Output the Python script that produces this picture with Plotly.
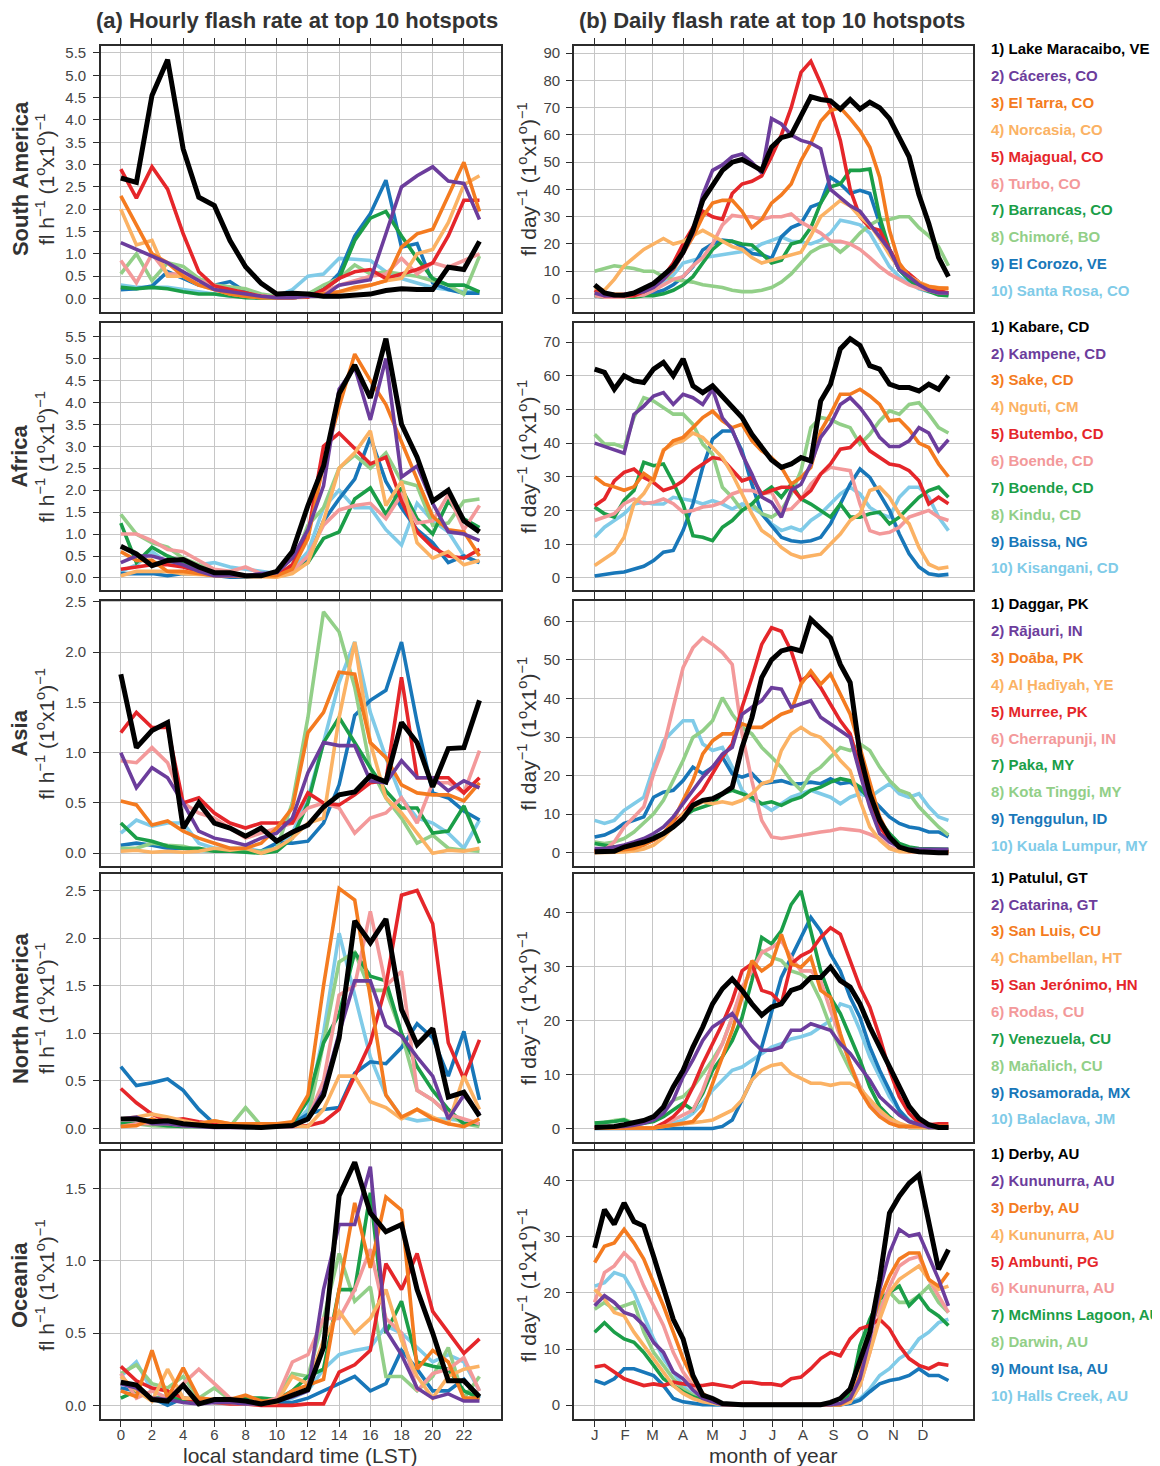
import plotly.graph_objects as go

# page pixels -> figure pixels (browser body margin is 8 px)
PAGE_OFF = 8
W, H = 1152, 1458
FONT = "Liberation Sans, Arial, Helvetica, sans-serif"

HOURS = list(range(24))
DAYS = list(range(1, 362, 10))          # sampled every 10 days
MONTH_DAYS = [1, 32, 60, 91, 121, 152, 182, 213, 244, 274, 305, 335]
MONTH_LABELS = ["J", "F", "M", "A", "M", "J", "J", "A", "S", "O", "N", "D"]
HOUR_TICKS = list(range(0, 24, 2))

COLORS = ["#000000", "#6c3d9c", "#f47b20", "#fbb264", "#e5262a",
          "#f3999a", "#1b9e48", "#92cf88", "#1877b9", "#80cbe8"]

REGIONS = ["South America", "Africa", "Asia", "North America", "Oceania"]

sa_names = ["1) Lake Maracaibo, VE", "2) Cáceres, CO", "3) El Tarra, CO", "4) Norcasia, CO",
            "5) Majagual, CO", "6) Turbo, CO", "7) Barrancas, CO", "8) Chimoré, BO",
            "9) El Corozo, VE", "10) Santa Rosa, CO"]
af_names = ["1) Kabare, CD", "2) Kampene, CD", "3) Sake, CD", "4) Nguti, CM", "5) Butembo, CD",
            "6) Boende, CD", "7) Boende, CD", "8) Kindu, CD", "9) Baissa, NG", "10) Kisangani, CD"]
as_names = ["1) Daggar, PK", "2) Rājauri, IN", "3) Doāba, PK", "4) Al Ḩadīyah, YE", "5) Murree, PK",
            "6) Cherrapunji, IN", "7) Paka, MY", "8) Kota Tinggi, MY", "9) Tenggulun, ID",
            "10) Kuala Lumpur, MY"]
na_names = ["1) Patulul, GT", "2) Catarina, GT", "3) San Luis, CU", "4) Chambellan, HT",
            "5) San Jerónimo, HN", "6) Rodas, CU", "7) Venezuela, CU", "8) Mañalich, CU",
            "9) Rosamorada, MX", "10) Balaclava, JM"]
oc_names = ["1) Derby, AU", "2) Kununurra, AU", "3) Derby, AU", "4) Kununurra, AU", "5) Ambunti, PG",
            "6) Kununurra, AU", "7) McMinns Lagoon, AU", "8) Darwin, AU", "9) Mount Isa, AU",
            "10) Halls Creek, AU"]

# ---------------- hourly flash rate (fl h-1 per 1x1 deg) ----------------
sa_hourly = [
    [2.70, 2.60, 4.55, 5.35, 3.35, 2.27, 2.08, 1.30, 0.71, 0.34, 0.10, 0.12, 0.10, 0.05, 0.05, 0.08, 0.10, 0.18, 0.22, 0.20, 0.20, 0.70, 0.65, 1.28],
    [1.25, 1.10, 0.95, 0.80, 0.60, 0.40, 0.20, 0.15, 0.10, 0.05, 0.02, 0.02, 0.05, 0.05, 0.30, 0.35, 0.42, 1.45, 2.50, 2.75, 2.95, 2.63, 2.58, 1.77],
    [2.30, 1.65, 1.00, 0.80, 0.50, 0.30, 0.20, 0.10, 0.05, 0.02, 0.02, 0.02, 0.05, 0.10, 0.15, 0.25, 0.30, 0.40, 1.15, 1.45, 1.55, 2.30, 3.05, 1.95],
    [2.00, 1.20, 1.30, 0.50, 0.50, 0.30, 0.20, 0.10, 0.05, 0.02, 0.02, 0.02, 0.05, 0.10, 0.15, 0.20, 0.30, 0.40, 0.45, 1.00, 1.10, 1.70, 2.55, 2.75],
    [2.90, 2.25, 2.95, 2.45, 1.45, 0.60, 0.28, 0.20, 0.12, 0.05, 0.02, 0.02, 0.03, 0.20, 0.45, 0.60, 0.65, 0.45, 0.55, 0.65, 0.80, 1.40, 2.20, 2.20],
    [0.85, 0.35, 1.00, 0.55, 0.55, 0.40, 0.30, 0.15, 0.10, 0.05, 0.02, 0.02, 0.05, 0.15, 0.30, 0.40, 0.50, 0.55, 0.90, 0.55, 0.80, 0.70, 0.85, 1.00],
    [0.25, 0.22, 0.25, 0.22, 0.15, 0.10, 0.10, 0.05, 0.02, 0.01, 0.01, 0.02, 0.05, 0.20, 0.45, 1.30, 1.80, 1.95, 1.40, 0.90, 0.45, 0.30, 0.30, 0.15],
    [0.55, 1.00, 0.40, 0.80, 0.72, 0.45, 0.30, 0.25, 0.22, 0.10, 0.05, 0.05, 0.10, 0.30, 0.45, 0.75, 0.55, 0.60, 0.55, 0.50, 0.40, 0.30, 0.10, 0.95],
    [0.20, 0.22, 0.28, 0.60, 0.45, 0.30, 0.30, 0.38, 0.15, 0.05, 0.02, 0.02, 0.05, 0.20, 0.56, 1.40, 1.90, 2.65, 1.15, 1.23, 0.35, 0.20, 0.12, 0.12],
    [0.30, 0.25, 0.25, 0.25, 0.20, 0.15, 0.10, 0.05, 0.05, 0.05, 0.05, 0.20, 0.50, 0.55, 0.90, 0.88, 0.85, 0.60, 0.45, 0.35, 0.25, 0.20, 0.15, 0.15],
]
af_hourly = [
    [0.72, 0.55, 0.28, 0.40, 0.42, 0.25, 0.12, 0.12, 0.05, 0.05, 0.15, 0.60, 1.65, 2.55, 4.20, 4.85, 4.10, 5.45, 3.50, 2.75, 1.75, 2.00, 1.30, 1.05],
    [0.35, 0.50, 0.50, 0.40, 0.30, 0.15, 0.05, 0.05, 0.05, 0.10, 0.12, 0.45, 1.10, 2.10, 4.30, 4.80, 3.60, 5.00, 2.30, 2.55, 1.70, 1.05, 1.00, 0.85],
    [0.60, 0.40, 0.40, 0.15, 0.15, 0.10, 0.05, 0.05, 0.05, 0.05, 0.05, 0.20, 0.90, 2.60, 3.90, 5.10, 4.50, 3.95, 3.10, 2.20, 1.40, 1.10, 1.05, 0.50],
    [0.05, 0.15, 0.15, 0.15, 0.10, 0.08, 0.05, 0.03, 0.03, 0.03, 0.02, 0.10, 0.35, 1.30, 2.50, 2.85, 3.35, 1.65, 2.20, 0.80, 0.45, 0.60, 0.30, 0.40],
    [0.20, 0.25, 0.30, 0.30, 0.25, 0.15, 0.10, 0.05, 0.05, 0.05, 0.05, 0.30, 1.00, 3.00, 3.30, 2.95, 2.60, 2.75, 1.75, 1.05, 0.70, 0.50, 0.45, 0.65],
    [1.00, 1.00, 0.85, 0.65, 0.60, 0.40, 0.20, 0.15, 0.25, 0.10, 0.05, 0.15, 0.50, 1.20, 1.55, 1.65, 1.70, 1.35, 1.90, 1.25, 1.30, 1.90, 1.10, 1.65],
    [1.25, 0.35, 0.70, 0.50, 0.35, 0.20, 0.10, 0.05, 0.05, 0.05, 0.10, 0.20, 0.35, 0.90, 1.05, 1.80, 2.05, 1.45, 2.05, 1.35, 1.00, 1.75, 1.35, 1.15],
    [1.45, 1.00, 0.80, 0.70, 0.45, 0.30, 0.15, 0.10, 0.05, 0.05, 0.05, 0.30, 1.20, 1.60, 2.50, 2.80, 2.50, 2.85, 2.20, 2.10, 1.20, 1.25, 1.75, 1.80],
    [0.10, 0.10, 0.10, 0.05, 0.10, 0.10, 0.05, 0.02, 0.02, 0.05, 0.10, 0.15, 0.40, 1.30, 1.80, 2.25, 3.20, 2.20, 1.60, 1.10, 0.80, 0.35, 0.50, 0.35],
    [0.15, 0.30, 0.60, 0.35, 0.30, 0.30, 0.35, 0.25, 0.20, 0.15, 0.10, 0.20, 0.60, 1.60, 2.00, 1.60, 1.60, 1.10, 0.75, 1.70, 1.30, 1.05, 0.50, 0.35],
]
as_hourly = [
    [1.78, 1.05, 1.22, 1.30, 0.25, 0.50, 0.30, 0.25, 0.17, 0.25, 0.12, 0.21, 0.28, 0.46, 0.58, 0.61, 0.77, 0.71, 1.30, 1.10, 0.66, 1.04, 1.05, 1.52],
    [1.00, 0.65, 0.85, 0.75, 0.50, 0.22, 0.15, 0.12, 0.08, 0.15, 0.20, 0.35, 0.80, 1.10, 1.07, 1.07, 0.72, 0.70, 0.92, 0.75, 0.75, 0.62, 0.72, 0.65],
    [0.52, 0.48, 0.28, 0.32, 0.22, 0.15, 0.10, 0.05, 0.05, 0.10, 0.25, 0.45, 1.20, 1.40, 1.80, 1.78, 1.10, 0.95, 0.68, 0.60, 0.58, 0.58, 0.52, 0.70],
    [0.02, 0.03, 0.01, 0.02, 0.01, 0.02, 0.05, 0.03, 0.05, 0.00, 0.05, 0.15, 0.30, 0.35, 1.35, 2.10, 1.10, 0.55, 0.40, 0.20, 0.00, 0.03, 0.02, 0.05],
    [1.20, 1.40, 1.25, 1.25, 0.50, 0.55, 0.40, 0.30, 0.25, 0.30, 0.30, 0.30, 0.60, 0.50, 0.48, 0.58, 0.70, 0.72, 1.75, 0.75, 0.75, 0.75, 0.60, 0.75],
    [0.92, 0.90, 1.05, 0.90, 0.50, 0.40, 0.35, 0.25, 0.15, 0.20, 0.25, 0.30, 0.45, 0.50, 0.45, 0.20, 0.35, 0.40, 0.55, 0.30, 0.70, 0.70, 0.60, 1.02],
    [0.30, 0.15, 0.12, 0.07, 0.05, 0.05, 0.02, 0.02, 0.01, 0.00, 0.02, 0.15, 0.50, 1.10, 1.35, 1.10, 0.85, 0.62, 0.45, 0.45, 0.20, 0.22, 0.47, 0.10],
    [0.05, 0.05, 0.10, 0.08, 0.07, 0.03, 0.02, 0.02, 0.02, 0.02, 0.05, 0.50, 1.35, 2.40, 2.20, 1.65, 0.85, 0.55, 0.35, 0.10, 0.18, 0.05, 0.03, 0.02],
    [0.08, 0.10, 0.08, 0.05, 0.05, 0.03, 0.02, 0.02, 0.02, 0.02, 0.10, 0.10, 0.12, 0.30, 0.68, 1.37, 1.52, 1.62, 2.10, 1.30, 0.60, 0.55, 0.42, 0.33],
    [0.20, 0.33, 0.27, 0.30, 0.30, 0.10, 0.05, 0.05, 0.05, 0.02, 0.05, 0.20, 0.55, 1.10, 1.70, 2.10, 1.40, 0.95, 0.55, 0.35, 0.30, 0.20, 0.05, 0.33],
]
na_hourly = [
    [0.10, 0.10, 0.07, 0.08, 0.05, 0.03, 0.02, 0.02, 0.01, 0.01, 0.02, 0.03, 0.10, 0.35, 0.95, 2.18, 1.95, 2.20, 1.25, 0.88, 1.05, 0.33, 0.38, 0.13],
    [0.10, 0.12, 0.05, 0.05, 0.03, 0.02, 0.01, 0.01, 0.01, 0.01, 0.02, 0.02, 0.10, 0.40, 1.00, 1.55, 1.55, 1.08, 0.97, 0.75, 0.55, 0.10, 0.35, 0.15],
    [0.02, 0.03, 0.10, 0.05, 0.05, 0.05, 0.08, 0.05, 0.05, 0.05, 0.05, 0.07, 0.35, 1.50, 2.52, 2.40, 1.40, 0.35, 0.12, 0.20, 0.10, 0.05, 0.02, 0.10],
    [0.10, 0.12, 0.15, 0.12, 0.08, 0.05, 0.08, 0.05, 0.03, 0.03, 0.03, 0.03, 0.02, 0.20, 0.55, 0.55, 0.28, 0.22, 0.10, 0.20, 0.12, 0.05, 0.55, 0.20],
    [0.42, 0.27, 0.15, 0.08, 0.10, 0.07, 0.05, 0.03, 0.02, 0.02, 0.02, 0.02, 0.03, 0.07, 0.20, 0.55, 0.90, 1.50, 2.45, 2.50, 2.15, 0.90, 0.52, 0.93],
    [0.02, 0.05, 0.05, 0.05, 0.03, 0.03, 0.02, 0.02, 0.02, 0.02, 0.02, 0.03, 0.10, 0.50, 1.40, 1.50, 2.28, 1.50, 1.65, 0.40, 0.30, 0.15, 0.10, 0.05],
    [0.05, 0.05, 0.05, 0.03, 0.02, 0.02, 0.02, 0.02, 0.01, 0.01, 0.02, 0.05, 0.30, 0.90, 1.20, 1.85, 1.60, 1.55, 1.00, 0.65, 0.40, 0.20, 0.05, 0.05],
    [0.05, 0.05, 0.03, 0.02, 0.02, 0.02, 0.02, 0.02, 0.22, 0.03, 0.02, 0.03, 0.10, 0.90, 1.75, 1.85, 1.45, 1.45, 1.00, 0.40, 0.30, 0.15, 0.05, 0.02],
    [0.65, 0.45, 0.48, 0.52, 0.40, 0.20, 0.05, 0.02, 0.01, 0.02, 0.02, 0.05, 0.15, 0.20, 0.22, 0.58, 0.70, 0.68, 0.85, 1.10, 0.95, 0.55, 1.02, 0.30],
    [0.05, 0.05, 0.05, 0.05, 0.03, 0.03, 0.02, 0.02, 0.02, 0.02, 0.02, 0.03, 0.20, 1.00, 2.05, 1.40, 0.75, 0.35, 0.12, 0.08, 0.10, 0.10, 0.08, 0.05],
]
oc_hourly = [
    [0.16, 0.14, 0.04, 0.03, 0.14, 0.01, 0.04, 0.04, 0.03, 0.01, 0.03, 0.07, 0.11, 0.40, 1.45, 1.68, 1.33, 1.20, 1.25, 0.80, 0.50, 0.17, 0.17, 0.06],
    [0.15, 0.12, 0.05, 0.04, 0.02, 0.01, 0.02, 0.02, 0.01, 0.01, 0.03, 0.06, 0.10, 0.80, 1.25, 1.25, 1.65, 0.52, 0.35, 0.12, 0.05, 0.08, 0.03, 0.03],
    [0.10, 0.06, 0.38, 0.05, 0.26, 0.05, 0.04, 0.04, 0.07, 0.03, 0.03, 0.10, 0.14, 0.18, 0.80, 1.40, 0.95, 1.44, 1.35, 0.25, 0.38, 0.30, 0.05, 0.05],
    [0.20, 0.10, 0.03, 0.25, 0.05, 0.05, 0.02, 0.02, 0.01, 0.01, 0.02, 0.20, 0.15, 0.45, 0.65, 0.50, 0.60, 0.80, 0.45, 0.20, 0.05, 0.20, 0.25, 0.27],
    [0.27, 0.17, 0.12, 0.10, 0.05, 0.03, 0.02, 0.01, 0.01, 0.00, 0.00, 0.00, 0.01, 0.01, 0.23, 0.28, 0.38, 0.98, 0.80, 1.05, 0.65, 0.50, 0.36, 0.46],
    [0.22, 0.05, 0.10, 0.05, 0.15, 0.25, 0.15, 0.05, 0.03, 0.02, 0.05, 0.30, 0.35, 0.60, 0.60, 0.80, 1.08, 0.60, 0.50, 0.10, 0.22, 0.25, 0.33, 0.10],
    [0.05, 0.10, 0.05, 0.05, 0.04, 0.03, 0.03, 0.04, 0.05, 0.05, 0.04, 0.10, 0.20, 0.25, 0.80, 0.80, 1.47, 0.50, 0.72, 0.30, 0.27, 0.25, 0.10, 0.05],
    [0.22, 0.28, 0.15, 0.12, 0.20, 0.05, 0.12, 0.04, 0.03, 0.02, 0.05, 0.22, 0.20, 0.60, 1.05, 0.72, 0.82, 0.20, 0.20, 0.10, 0.20, 0.40, 0.05, 0.20],
    [0.12, 0.10, 0.05, 0.00, 0.05, 0.03, 0.02, 0.02, 0.01, 0.01, 0.02, 0.02, 0.05, 0.10, 0.15, 0.20, 0.10, 0.15, 0.38, 0.25, 0.10, 0.10, 0.18, 0.05],
    [0.20, 0.30, 0.10, 0.05, 0.05, 0.05, 0.02, 0.02, 0.01, 0.01, 0.02, 0.05, 0.10, 0.25, 0.35, 0.38, 0.40, 0.55, 0.50, 0.40, 0.30, 0.35, 0.30, 0.10],
]

# ---------------- daily flash rate (fl day-1 per 1x1 deg), every 10 days ----------------
sa_daily = [
    [5, 2, 1.3, 1.2, 2, 4, 5.5, 8.6, 11.7, 17, 25, 36, 41.5, 47, 50, 51, 49, 47, 55.5, 59, 60, 67, 74, 73, 72.5, 69.5, 73, 69.5, 72, 70, 66, 59, 52, 38, 27.5, 15, 8],
    [2, 1, 1, 1.5, 2, 2.5, 4, 7, 11, 16.5, 24, 38, 47, 49, 52, 53, 50, 46, 66, 64, 60, 58, 57, 55, 40, 37, 34, 32, 27.5, 22.6, 17.8, 10.5, 8, 5, 3, 2, 2],
    [2, 1.5, 1.5, 1.5, 2, 2.5, 4.4, 7, 10.5, 16.5, 22.6, 30, 35, 36, 36, 32, 26, 29, 35, 38, 42, 50.6, 57, 65, 69, 70, 66, 61.5, 55.5, 44.5, 25, 13, 8, 5.6, 4.4, 3.8, 3.8],
    [4, 3, 7, 12, 15, 18, 20, 22, 20, 21, 23, 25, 23, 21, 19, 18, 15, 13, 14, 15, 16, 17, 23, 30, 33, 36, 34, 30, 27, 22, 16, 11, 8, 6, 4.5, 4, 3.5],
    [3, 1, 1, 1, 1, 2.5, 5, 8, 13, 20, 26, 32, 30, 29, 38.5, 42, 43, 45, 52, 60, 70, 83, 87, 79, 70, 58, 40, 30, 26, 25, 18, 12, 9, 6, 3.5, 3, 2],
    [1, 0.5, 0.5, 0.5, 1, 1.3, 3, 5, 7, 8, 12, 15, 20, 27, 30.5, 30, 30, 29, 30, 30, 31, 28, 26, 24, 21, 21, 20, 18, 15, 11.7, 9, 7, 5, 3.8, 3, 2, 2],
    [1, 0.5, 0.5, 0.5, 0.5, 1, 1, 1.7, 3, 5, 8, 13, 18, 21, 21, 20, 19.6, 16.5, 13, 14, 20, 21, 26, 35, 41, 42, 47, 47, 47.5, 30, 18, 10.5, 7, 4, 2.5, 1.3, 1],
    [10, 11, 12, 11.5, 11, 10, 10, 8, 7, 6.5, 6, 5, 4.5, 4, 3, 2.5, 2.5, 3, 4, 6, 9, 13, 17, 19, 20, 17, 20, 24, 27, 29, 29, 30, 30, 26, 23, 19, 12],
    [1.3, 0.5, 0.5, 0.5, 1, 1.5, 2, 3, 5, 8, 11.7, 17.8, 20, 21.4, 21, 19, 16.5, 16, 14.7, 22.6, 26, 27.5, 33.6, 35, 44.5, 42, 38.5, 39.7, 38.5, 27.5, 17.8, 10.5, 6.8, 4.4, 3, 2, 1.3],
    [0.7, 0.7, 0.8, 1, 1.2, 1.3, 3, 5.6, 8.6, 13, 14, 15, 15.5, 16, 16.5, 17, 17.8, 20, 21.4, 22.6, 21, 20.8, 20, 21.4, 24, 28.7, 28, 27, 24, 17.8, 11.7, 8, 5.6, 3.5, 2.5, 2, 1.5],
]
af_daily = [
    [62, 61, 56, 60, 58.5, 58, 62, 64, 60, 65, 57, 55, 57, 54, 50.5, 47.6, 42.6, 38.7, 35, 32.8, 33.8, 35.7, 34.7, 52.5, 57.5, 68, 71, 69, 63, 62, 57.5, 56.5, 56.5, 55.5, 57.5, 56, 60],
    [40, 39, 38, 37, 48.5, 51, 54, 55, 51.5, 54.5, 53.5, 51.5, 56, 47.5, 44, 36.7, 30.8, 24, 22.4, 18, 26, 27.8, 33.8, 41.7, 45.6, 51.5, 53.5, 50.5, 46.6, 41.7, 39, 39, 40.7, 44.6, 43, 37.7, 41],
    [30, 27.8, 27, 26, 27, 31, 29, 37.7, 40.7, 41.7, 44.6, 47.6, 49.5, 46.6, 44.6, 45.6, 40.7, 37.7, 35.7, 32.8, 27.8, 29.8, 32.8, 43.6, 48.6, 54.5, 54.5, 56, 54, 51.5, 46.6, 47, 44, 40, 38.7, 33.8, 30],
    [3.6, 5.6, 7.6, 12, 22, 25, 29.8, 38, 39.7, 40.7, 43, 41.7, 38.7, 35.7, 30.8, 24.9, 19, 14, 12, 9, 7, 6, 6.6, 7, 10, 13, 17, 19, 25.9, 26.9, 23.9, 19, 16, 9, 4, 2.7, 3.2],
    [21.4, 23.4, 28.8, 31.3, 32.3, 29.8, 28.3, 25.9, 26.9, 28.8, 31.8, 33.8, 35.7, 35.2, 31.8, 28.8, 29.8, 24.9, 25.9, 26.9, 26.9, 23.4, 25.9, 30.8, 33.8, 38.2, 38.7, 41.7, 37.7, 35.7, 33.8, 33.3, 31.8, 28.8, 21.9, 23.9, 22],
    [17, 18, 19, 22, 23.4, 22, 22.4, 23.4, 22, 19.5, 20, 21, 21.4, 22.4, 24.9, 25.9, 25.9, 24.9, 25.4, 20, 20.4, 23.4, 27.8, 30.8, 32.8, 32.3, 31.8, 21.9, 14, 13, 13.5, 15, 18, 19, 20, 18, 17],
    [21, 19, 18, 23, 25.9, 34.3, 33.3, 33.8, 28.3, 21.9, 12.5, 12, 11, 15, 17, 20, 21.9, 24.9, 26.9, 23.9, 27.8, 23.4, 21.9, 20, 18, 21.9, 18, 18, 19, 19.5, 16, 18, 20.9, 23.9, 25.9, 26.9, 23.9],
    [42.6, 39.7, 39.7, 38.7, 47.6, 53.5, 52.5, 50.5, 48.6, 48.6, 45.6, 39.7, 36.7, 26.9, 23.9, 20, 21.9, 19, 18, 20, 24.9, 31.8, 44.6, 47.6, 47, 45.6, 44.6, 39.7, 42.6, 46.6, 49.6, 48.6, 51.5, 52, 48.6, 44.6, 43],
    [0.5, 1, 1.4, 1.7, 2.5, 3.4, 5.1, 7.6, 8.1, 14, 21.9, 32.8, 41.2, 43.6, 43.6, 37.7, 27.8, 19, 15.5, 12, 11, 10.6, 11, 12, 16, 21.9, 27.8, 32.3, 29.8, 24.9, 20, 13, 7.1, 3.2, 1.2, 0.7, 1],
    [12, 15, 17, 19, 21.9, 22.4, 21.9, 21.9, 23.9, 23.4, 22.9, 21.9, 22.9, 21.9, 20.4, 21.9, 20.9, 19, 16, 14, 15, 14, 17, 19, 21.9, 24.9, 26.9, 24.9, 20.9, 19, 18, 23.9, 26.9, 26.9, 23.9, 18, 14],
]
as_daily = [
    [0.3, 0.3, 0.4, 1.5, 2, 2.8, 3.7, 5, 6.7, 8.9, 12.3, 13.6, 14, 15.3, 17, 27.3, 35, 45.4, 50, 52.3, 53, 52.3, 60.5, 58.3, 55.7, 48.8, 44.1, 25.6, 15.3, 8.4, 4.1, 1.5, 0.7, 0.3, 0, 0, 0],
    [1.1, 1.1, 1.5, 2, 2.8, 3.7, 5, 6.7, 9.3, 12.7, 16.2, 19.6, 22.2, 25.6, 27.3, 35.9, 37.7, 39.4, 42.8, 42.4, 37.7, 38.5, 39.4, 35.1, 33.4, 31.6, 29.9, 20.5, 11.9, 5, 2.8, 1.5, 0.9, 0.9, 0.9, 0.9, 0.9],
    [0.3, 0.4, 0.5, 0.8, 1.1, 2, 3.3, 5, 8.4, 13.6, 18.7, 25.6, 29, 30.8, 30.8, 33.4, 32.5, 32.5, 34.2, 35.9, 36.8, 43.7, 47.1, 43.7, 46.3, 41.1, 35.9, 27.3, 18.7, 9.3, 4.1, 1.5, 0.5, 0.5, 0.5, 0.5, 0.5],
    [0, 0, 0.1, 0.2, 0.5, 1, 2, 4, 6.7, 10.1, 11.9, 13.2, 12.7, 13.2, 12.7, 13.6, 15.3, 17.9, 18.7, 26.5, 30.8, 32.5, 30.8, 29.9, 27.3, 23.9, 21.3, 13.6, 6.7, 3.3, 1.1, 0.3, 0.3, 0.3, 0.3, 0.3, 0.3],
    [0.7, 0.8, 0.9, 1.2, 1.5, 2.2, 3.3, 5, 7.6, 10.1, 13.6, 16.2, 20.5, 24.8, 28.2, 37.7, 45.4, 54, 58.3, 57.4, 52.3, 44.5, 46.3, 42.8, 38.5, 34.2, 30.8, 22.2, 13.6, 6.7, 3.3, 1.5, 0.7, 0.3, 0.3, 0.3, 0.3],
    [0, 0.7, 2.8, 6.7, 9.3, 11.9, 20.5, 27.3, 37.7, 48, 53.1, 55.7, 54, 51.9, 48.8, 30.8, 18.7, 8.4, 4.1, 3.7, 4.1, 4.6, 5, 5.4, 5.7, 6.3, 6, 5.7, 4.8, 3.7, 1.5, 0.5, 0.2, 0.1, 0, 0, 0],
    [2.4, 2, 1.5, 1.1, 2.4, 3.3, 4.1, 5, 6.7, 9.3, 11, 11.9, 12.7, 15.3, 16.2, 15.3, 14.4, 12.7, 13.2, 12.3, 13.6, 14.4, 16.2, 17, 18.3, 19.2, 18.7, 17, 13.6, 8.4, 5, 2.4, 1.5, 1.1, 1.1, 1.1, 0.9],
    [2.8, 2.4, 2.8, 3.7, 5.4, 7.6, 10.1, 13.6, 18.7, 23.9, 29.9, 31.6, 34.2, 40.2, 35.9, 32.5, 30.8, 27.3, 24.8, 22.2, 18.7, 16.2, 20.5, 22.2, 24.8, 27.3, 26.5, 28.2, 26.5, 22.2, 18.7, 16.2, 15.3, 11.9, 9.3, 6.7, 4.6],
    [4.1, 4.6, 5.8, 7.6, 8.4, 9.3, 14.4, 15.7, 16.2, 18.7, 22.2, 20.5, 22.2, 24.8, 20.5, 19.6, 20.5, 17.9, 18.3, 18.7, 17.9, 17.9, 18.3, 17.9, 19.2, 17.9, 18.3, 16.2, 14.4, 11.9, 9.3, 7.6, 6.7, 6.3, 5.4, 5.4, 4.1],
    [8.4, 7.6, 8.4, 11, 12.7, 14.4, 22.2, 29, 31.6, 34.2, 34.2, 28.2, 26.5, 27.3, 22.2, 16.2, 13.6, 12.7, 11, 12.7, 14.4, 15.3, 16.2, 15.3, 14.4, 12.7, 14.4, 15.3, 14.4, 16.2, 17.9, 15.3, 14.4, 15.3, 11.9, 9.3, 8.4],
]
na_daily = [
    [0.2, 0.2, 0.4, 0.7, 1, 1.5, 2.2, 4, 7.7, 10.8, 15.1, 18.8, 23.1, 25.9, 27.7, 25.6, 23.1, 21, 22.5, 23.1, 25.6, 26.2, 28, 28, 29.9, 27.4, 26.2, 23.1, 18.8, 15.1, 11.4, 7.7, 4.1, 1.9, 0.7, 0.2, 0.2],
    [0.2, 0.2, 0.3, 0.4, 0.6, 1, 1.6, 2.8, 5.3, 9.6, 12.7, 16.3, 18.8, 20, 21.3, 18.8, 16.3, 14.5, 14.5, 15.1, 18.2, 18.2, 19.4, 18.8, 18.2, 15.7, 13.9, 11.4, 9, 5.9, 4.1, 2.5, 1.3, 0.7, 0.2, 0.2, 0.2],
    [0.1, 0.1, 0.1, 0.1, 0.1, 0.1, 0.1, 0.4, 0.7, 1, 1.3, 3.4, 8.4, 13.3, 18.2, 24.3, 31.1, 29.2, 30.5, 36, 30.5, 29.9, 31.7, 25.6, 24.3, 17.6, 12, 7.1, 4.1, 2.2, 1, 0.4, 0.4, 0.4, 0.4, 0.4, 0.4],
    [0.1, 0.1, 0.1, 0.1, 0.1, 0.1, 0.1, 0.4, 0.6, 0.9, 1.1, 1.3, 1.6, 2.5, 3.4, 5.3, 9, 10.8, 11.7, 12, 10.2, 9.3, 8.4, 8.4, 8, 8.4, 8.4, 7.4, 5.3, 3.4, 1.9, 1, 0.4, 0.2, 0.2, 0.2, 0.2],
    [0.1, 0.1, 0.1, 0.1, 0.1, 0.1, 0.1, 1, 2.2, 4.1, 7.7, 12, 15.7, 19.4, 23.7, 29.2, 30.5, 25.6, 25, 23.1, 30.5, 32, 32.9, 35.4, 37.2, 36, 31.1, 26.2, 22.5, 17, 10.8, 5.9, 2.8, 1, 0.7, 0.9, 0.9],
    [0.1, 0.1, 0.1, 0.1, 0.1, 0.1, 0.1, 0.7, 1.6, 2.5, 3.4, 7.1, 12, 15.7, 20.6, 26.2, 29.2, 32.6, 33.5, 34.8, 31.7, 29.2, 29.2, 27.4, 21.9, 17, 12, 7.7, 4.7, 2.8, 1.3, 0.7, 0.2, 0.2, 0.2, 0.2, 0.2],
    [1, 1.1, 1.3, 1.6, 0.7, 1, 1.3, 2.2, 3.4, 4.7, 3.4, 6.5, 10.8, 13.3, 16.3, 20.6, 27.4, 35.4, 34.2, 36.6, 41.5, 44, 36.6, 29.2, 24.3, 21.3, 17, 12.7, 7.7, 4.1, 2.2, 0.7, 0.2, 0.2, 0.2, 0.2, 0.2],
    [1, 1.1, 1.5, 1.7, 1, 1.5, 2.2, 3.4, 5.3, 5.9, 7.7, 10.2, 12.7, 15.7, 20.6, 25.6, 29.9, 32.9, 31.7, 31.1, 29.2, 28.6, 27.4, 23.7, 18.8, 14.5, 10.8, 7.7, 4.7, 2.8, 1.3, 0.7, 0.2, 0.2, 0.2, 0.2, 0.2],
    [0, 0, 0, 0, 0, 0, 0, 0, 0, 0, 0, 0, 0, 0.4, 1.6, 5.3, 9, 15.1, 21.3, 28, 31.7, 35.4, 39.1, 36.6, 32.3, 29.2, 24.3, 20.6, 15.1, 10.8, 7.1, 3.4, 1.3, 0.7, 0.3, 0.3, 0.3],
    [0.1, 0.1, 0.1, 0.1, 0.1, 0.1, 0.1, 0.4, 1, 1.6, 2.8, 4.7, 7.1, 9, 10.8, 11.4, 12.7, 13.9, 15.1, 15.7, 16.6, 17, 17.6, 18.8, 20, 23.1, 22.5, 18.2, 13.3, 9.6, 5.9, 3.4, 1.6, 0.7, 0.2, 0.2, 0.2],
]
oc_daily = [
    [28, 34.8, 32.2, 36, 32.7, 31.9, 26.5, 21.2, 15.3, 11.8, 5.3, 1.8, 1.2, 0.3, 0.1, 0.1, 0.1, 0.1, 0.1, 0.1, 0.1, 0.1, 0.1, 0.1, 0.5, 1.2, 2.9, 7.7, 13, 22.4, 34.2, 37.2, 39.5, 41, 33, 24.2, 27.7],
    [17.7, 19.5, 18.3, 16.5, 15.9, 14.2, 11.2, 9.4, 5.9, 4.7, 2.7, 1.2, 0.6, 0.1, 0.1, 0.1, 0.1, 0.1, 0.1, 0.1, 0.1, 0.1, 0.1, 0.1, 0.1, 0.3, 1.2, 4.7, 11.8, 20.6, 27.1, 31.3, 30.1, 30.5, 26.5, 22.4, 17.7],
    [25.4, 28.3, 28.9, 31.3, 28.9, 26, 21.8, 17.7, 13, 8.3, 4.7, 2.1, 0.9, 0.3, 0.1, 0.1, 0.1, 0.1, 0.1, 0.1, 0.1, 0.1, 0.1, 0.1, 0.1, 0.1, 1.2, 5.3, 13, 18.9, 23, 26, 27.1, 27.1, 22.4, 21.2, 23.6],
    [20.6, 18.9, 16.5, 15.9, 13, 10.6, 8.3, 5.9, 3.5, 2.1, 1.2, 0.6, 0.3, 0.1, 0.1, 0.1, 0.1, 0.1, 0.1, 0.1, 0.1, 0.1, 0.1, 0.1, 0.1, 0.1, 0.6, 3.5, 9.4, 15.3, 20.1, 22.4, 23.6, 24.8, 22.4, 20.6, 21.2],
    [6.8, 7.1, 5.9, 4.7, 4.1, 3.5, 3.8, 3.5, 4.1, 3.8, 3.5, 3.5, 3.8, 3.5, 3.2, 4.1, 4.1, 3.8, 3.8, 3.5, 4.7, 5, 6.5, 8.3, 9.4, 8.8, 11.8, 13.6, 14.2, 15.3, 13.6, 10.6, 8.3, 7.1, 6.5, 7.4, 7.1],
    [18.3, 23.6, 24.8, 27.1, 25.4, 21.2, 17.7, 14.2, 9.4, 5.9, 3.5, 1.8, 0.9, 0.1, 0.1, 0.1, 0.1, 0.1, 0.1, 0.1, 0.1, 0.1, 0.1, 0.1, 0.1, 0.1, 0.6, 3.5, 9.4, 16.5, 21.2, 24.8, 26, 26.5, 22.4, 19.5, 16.5],
    [13, 14.7, 13, 11.8, 11.2, 9.4, 7.1, 4.7, 3.5, 2.4, 1.5, 0.9, 0.5, 0.1, 0.1, 0.1, 0.1, 0.1, 0.1, 0.1, 0.1, 0.1, 0.1, 0.1, 0.1, 0.1, 1.8, 10.6, 15.3, 18.9, 20.1, 21.2, 17.7, 19.5, 17.1, 15.9, 14.2],
    [17.1, 18.3, 17.1, 17.7, 18.3, 13, 9.4, 7.1, 4.7, 2.9, 1.8, 0.9, 0.4, 0.1, 0.1, 0.1, 0.1, 0.1, 0.1, 0.1, 0.1, 0.1, 0.1, 0.1, 0.1, 0.1, 2.4, 8.3, 14.2, 17.7, 20.1, 18.3, 18.3, 19.5, 21.2, 18.3, 16.5],
    [4.4, 3.8, 4.7, 6.5, 6.5, 5.9, 5.3, 3.5, 1.2, 0.6, 0.3, 0.1, 0.1, 0.1, 0.1, 0.1, 0.1, 0.1, 0.1, 0.1, 0.1, 0.1, 0.1, 0.1, 0.1, 0.1, 0.3, 0.9, 2.4, 3.8, 4.4, 4.7, 5.3, 6.5, 5.3, 5.3, 4.4],
    [21.2, 21.8, 23.6, 23, 20.1, 15.9, 11.8, 8.3, 5.9, 3.5, 1.8, 0.9, 0.1, 0.1, 0.1, 0.1, 0.1, 0.1, 0.1, 0.1, 0.1, 0.1, 0.1, 0.1, 0.1, 0.1, 0.5, 1.2, 2.9, 5.3, 6.5, 8.3, 9.4, 11.8, 13, 14.7, 15.3],
]

ALL_NAMES = [sa_names, af_names, as_names, na_names, oc_names]
ALL_HOURLY = [sa_hourly, af_hourly, as_hourly, na_hourly, oc_hourly]
ALL_DAILY = [sa_daily, af_daily, as_daily, na_daily, oc_daily]

for block in ALL_HOURLY:
    for s in block:
        assert len(s) == len(HOURS), len(s)
for block in ALL_DAILY:
    for s in block:
        assert len(s) == len(DAYS), len(s)

# ---------------- layout geometry (page pixels) ----------------
ROW_TOP = [38, 317, 596, 871, 1149]
ROW_BOT = [306, 585, 863, 1140, 1419]
LEFT_PX = (101, 501)
RIGHT_PX = (574, 973)
HOURLY_YRANGE = [(-0.31, 5.66), (-0.27, 5.80), (-0.13, 2.51), (-0.14, 2.67), (-0.096, 1.76)]
DAILY_YRANGE = [(-5.1, 92.7), (-3.6, 75.6), (-3.5, 65.3), (-2.45, 47.1), (-2.5, 45.3)]
HOURLY_XRANGE = (-1.27, 24.38)
DAILY_XRANGE = (-20, 386)


def fx(p):
    return (p - PAGE_OFF) / W


def fy(p):
    return 1 - (p - PAGE_OFF) / H


fig = go.Figure()
layout = dict(width=W, height=H, margin=dict(l=0, r=0, t=0, b=0),
              paper_bgcolor="white", plot_bgcolor="white", showlegend=False,
              font=dict(family=FONT, color="#444444", size=15))
annotations = []

axis_common = dict(showline=True, linecolor="#2b2b2b", linewidth=1.6,
                   ticks="outside", ticklen=6, tickwidth=1.4, tickcolor="#2b2b2b",
                   showgrid=True, gridcolor="#c6c6c6", gridwidth=1.3, zeroline=False,
                   tickfont=dict(family=FONT, size=15, color="#444444"))

for r in range(5):
    for c in range(2):
        k = r * 2 + c + 1
        xname = "xaxis" if k == 1 else f"xaxis{k}"
        yname = "yaxis" if k == 1 else f"yaxis{k}"
        xref = "x" if k == 1 else f"x{k}"
        yref = "y" if k == 1 else f"y{k}"
        xpx = LEFT_PX if c == 0 else RIGHT_PX
        ydom = [fy(ROW_BOT[r]), fy(ROW_TOP[r])]
        xdom = [fx(xpx[0]), fx(xpx[1])]
        bottom = (r == 4)
        if c == 0:
            xa = dict(axis_common, domain=xdom, anchor=yref, range=list(HOURLY_XRANGE),
                      tickmode="array", tickvals=HOUR_TICKS,
                      ticktext=[str(h) for h in HOUR_TICKS], showticklabels=bottom,
                      mirror="ticks", ticklabelstandoff=-5)
            ya = dict(axis_common, domain=ydom, anchor=xref, range=list(HOURLY_YRANGE[r]),
                      dtick=0.5, tick0=0, tickformat=".1f", mirror=True, ticklabelstandoff=4)
            xs = HOURS
            series = ALL_HOURLY[r]
        else:
            xa = dict(axis_common, domain=xdom, anchor=yref, range=list(DAILY_XRANGE),
                      tickmode="array", tickvals=MONTH_DAYS, ticktext=MONTH_LABELS,
                      showticklabels=bottom, mirror="ticks", ticklabelstandoff=-5)
            ya = dict(axis_common, domain=ydom, anchor=xref, range=list(DAILY_YRANGE[r]),
                      dtick=10, tick0=0, mirror=True, ticklabelstandoff=3)
            xs = DAYS
            series = ALL_DAILY[r]
        layout[xname] = xa
        layout[yname] = ya
        for i in range(9, -1, -1):
            fig.add_trace(go.Scatter(
                x=xs, y=series[i], mode="lines", xaxis=xref, yaxis=yref,
                line=dict(color=COLORS[i], width=5.0 if i == 0 else 3.6),
                name=ALL_NAMES[r][i], hoverinfo="skip"))

    # row labels
    ymid = fy((ROW_TOP[r] + ROW_BOT[r]) / 2)
    annotations.append(dict(text=f"<b>{REGIONS[r]}</b>", x=fx(20), y=ymid, xref="paper", yref="paper",
                            textangle=-90, showarrow=False, xanchor="center", yanchor="middle",
                            font=dict(family=FONT, size=22, color="#333333")))
    annotations.append(dict(text="fl h<sup>−1</sup> (1<sup>o</sup>x1<sup>o</sup>)<sup>−1</sup>",
                            x=fx(45), y=ymid, xref="paper", yref="paper",
                            textangle=-90, showarrow=False, xanchor="center", yanchor="middle",
                            font=dict(family=FONT, size=21, color="#333333")))
    annotations.append(dict(text="fl day<sup>−1</sup> (1<sup>o</sup>x1<sup>o</sup>)<sup>−1</sup>",
                            x=fx(527), y=ymid, xref="paper", yref="paper",
                            textangle=-90, showarrow=False, xanchor="center", yanchor="middle",
                            font=dict(family=FONT, size=21, color="#333333")))
    # legend text
    for i, nm in enumerate(ALL_NAMES[r]):
        annotations.append(dict(text=f"<b>{nm}</b>", x=fx(989), y=fy(ROW_TOP[r] + 3 + 27 * i),
                                xref="paper", yref="paper", showarrow=False,
                                xanchor="left", yanchor="middle",
                                font=dict(family=FONT, size=15, color=COLORS[i])))

annotations.append(dict(text="<b>(a) Hourly flash rate at top 10 hotspots</b>", x=fx(297), y=fy(13),
                        xref="paper", yref="paper", showarrow=False, xanchor="center", yanchor="middle",
                        font=dict(family=FONT, size=22, color="#333333")))
annotations.append(dict(text="<b>(b) Daily flash rate at top 10 hotspots</b>", x=fx(772), y=fy(13),
                        xref="paper", yref="paper", showarrow=False, xanchor="center", yanchor="middle",
                        font=dict(family=FONT, size=22, color="#333333")))
annotations.append(dict(text="local standard time (LST)", x=fx(300), y=fy(1455),
                        xref="paper", yref="paper", showarrow=False, xanchor="center", yanchor="middle",
                        font=dict(family=FONT, size=21, color="#333333")))
annotations.append(dict(text="month of year", x=fx(773), y=fy(1455),
                        xref="paper", yref="paper", showarrow=False, xanchor="center", yanchor="middle",
                        font=dict(family=FONT, size=21, color="#333333")))

layout["annotations"] = annotations
fig.update_layout(**layout)
fig.write_html("out.html")
